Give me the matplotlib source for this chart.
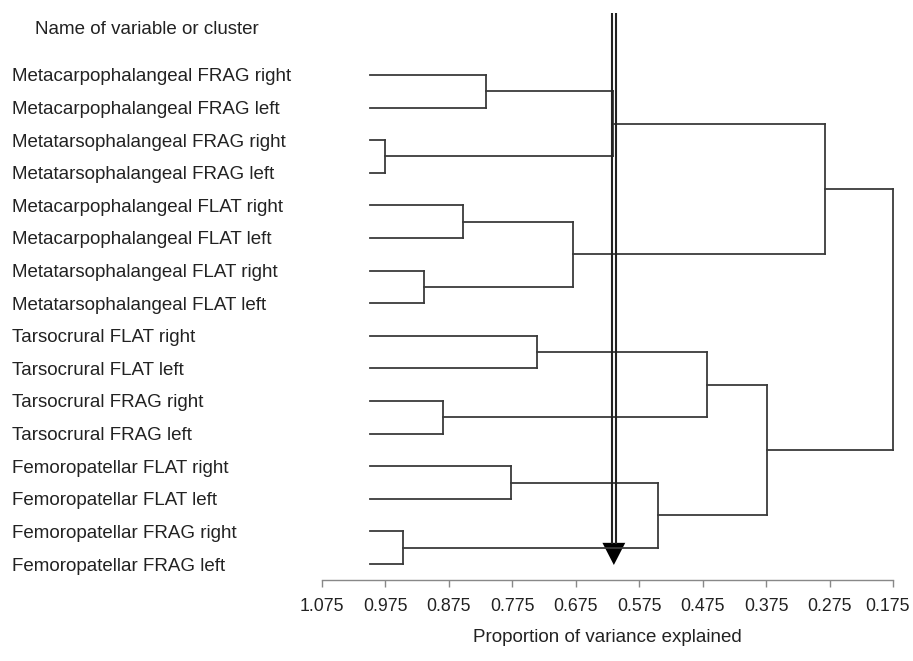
import matplotlib.pyplot as plt
from matplotlib.transforms import blended_transform_factory, ScaledTranslation

plt.rcParams['font.family'] = ['Liberation Sans', 'DejaVu Sans']

# leaf names, top to bottom
labels = [
    'Metacarpophalangeal FRAG right', 'Metacarpophalangeal FRAG left',
    'Metatarsophalangeal FRAG right', 'Metatarsophalangeal FRAG left',
    'Metacarpophalangeal FLAT right', 'Metacarpophalangeal FLAT left',
    'Metatarsophalangeal FLAT right', 'Metatarsophalangeal FLAT left',
    'Tarsocrural FLAT right', 'Tarsocrural FLAT left',
    'Tarsocrural FRAG right', 'Tarsocrural FRAG left',
    'Femoropatellar FLAT right', 'Femoropatellar FLAT left',
    'Femoropatellar FRAG right', 'Femoropatellar FRAG left',
]
leaf_level = 1.0

# merges: (left cluster, right cluster, proportion of variance explained)
# new clusters get ids 16, 17, ... in order
merge_left = [0, 2, 16, 4, 6, 19, 18, 8, 10, 23, 12, 14, 26, 25, 22]
merge_right = [1, 3, 17, 5, 7, 20, 21, 9, 11, 24, 13, 15, 27, 28, 29]
merge_height = [0.817, 0.976, 0.617, 0.852, 0.915, 0.680, 0.282,
                0.736, 0.885, 0.468, 0.777, 0.948, 0.546, 0.374, 0.175]

cut_level = 0.615
ticks = [1.075, 0.975, 0.875, 0.775, 0.675, 0.575, 0.475, 0.375, 0.275, 0.175]

W, H = 913, 661
fig = plt.figure(figsize=(W / 100, H / 100), dpi=100)
ax = fig.add_axes([322 / W, 1 - 580 / H, (893 - 322) / W, (580 - 13) / H])

line_kw = dict(color='#3a3a3a', lw=1.3, solid_capstyle='projecting', clip_on=False)

# positions of clusters: x = height, y = vertical position
pos_x = {i: leaf_level for i in range(len(labels))}
pos_y = {i: -i for i in range(len(labels))}
for k, (a, b, h) in enumerate(zip(merge_left, merge_right, merge_height)):
    cid = len(labels) + k
    ax.plot([pos_x[a], h], [pos_y[a], pos_y[a]], **line_kw)
    ax.plot([pos_x[b], h], [pos_y[b], pos_y[b]], **line_kw)
    ax.plot([h, h], [pos_y[a], pos_y[b]], **line_kw)
    pos_x[cid] = h
    pos_y[cid] = (pos_y[a] + pos_y[b]) / 2

ax.set_xlim(1.075, 0.175)
ax.set_ylim(-15.49, 1.90)

# cut-off arrow (double line with a filled head)
off = 0.0032
y_top, y_head = 1.90, -14.35
for dx in (-off, off):
    ax.plot([cut_level + dx, cut_level + dx], [y_top, y_head], color='#222222', lw=1.5)
ax.fill([cut_level + 0.018, cut_level - 0.018, cut_level],
        [y_head, y_head, -15.03], color='black', lw=0)

# leaf labels
trans = blended_transform_factory(fig.transFigure, ax.transData)
for i, lab in enumerate(labels):
    ax.text(12 / W, -i, lab, transform=trans, ha='left', va='center_baseline',
            fontsize=13.5, color='#222222')
fig.text(35 / W, 1 - 28 / H, 'Name of variable or cluster', ha='left', va='center_baseline',
         fontsize=13.5, color='#222222')

for s in ('left', 'right', 'top'):
    ax.spines[s].set_visible(False)
ax.spines['bottom'].set_color('#888888')
ax.spines['bottom'].set_linewidth(1.0)
ax.set_yticks([])
ax.set_xticks(ticks)
ax.set_xticklabels([f'{t:.3f}' for t in ticks])
ax.tick_params(axis='x', direction='out', length=5, width=1.0, color='#888888',
               pad=8, labelsize=12.8, labelcolor='#222222')
# last label nudged left so it stays inside the picture
last = ax.get_xticklabels()[-1]
last.set_transform(last.get_transform() + ScaledTranslation(-5 / 100, 0, fig.dpi_scale_trans))
ax.set_xlabel('Proportion of variance explained', fontsize=13.5, color='#222222',
              labelpad=10)
ax.patch.set_visible(False)

fig.savefig('out.png', dpi=100)
